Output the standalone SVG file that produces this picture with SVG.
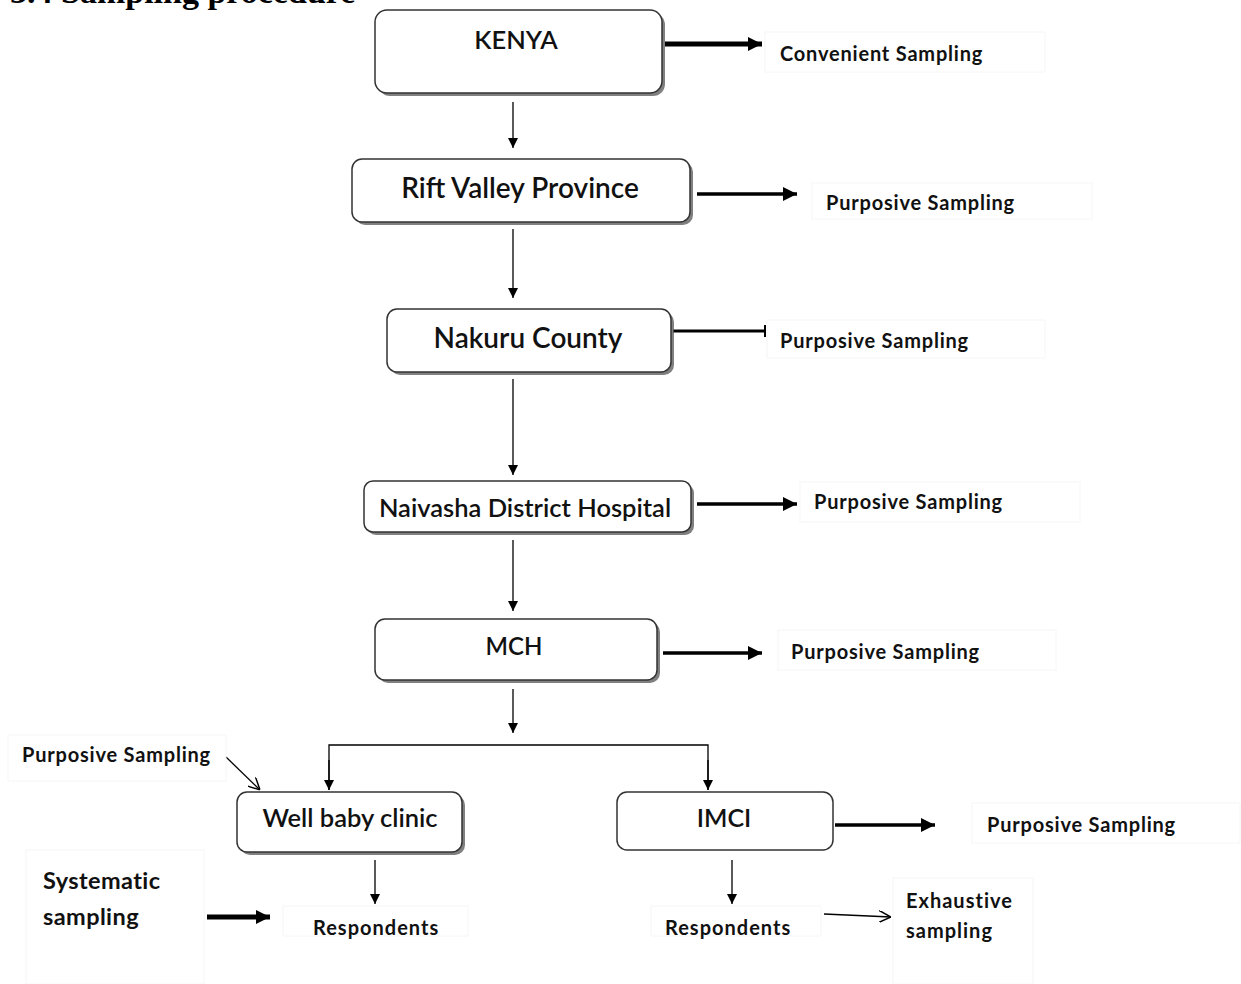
<svg xmlns="http://www.w3.org/2000/svg" width="1241" height="984" viewBox="0 0 1241 984">
<defs>
<marker id="ah" viewBox="0 0 10 10" refX="10" refY="5" markerWidth="10" markerHeight="10" markerUnits="userSpaceOnUse" orient="auto"><path d="M0,0 L10,5 L0,10 z" fill="#000"/></marker>
<marker id="ahb" viewBox="0 0 10 10" refX="10" refY="5" markerWidth="14" markerHeight="15" markerUnits="userSpaceOnUse" orient="auto"><path d="M0,0 L10,5 L0,10 z" fill="#000"/></marker>
<marker id="open" viewBox="0 0 10 10" refX="10" refY="5" markerWidth="12" markerHeight="12" markerUnits="userSpaceOnUse" orient="auto"><path d="M0,0 L10,5 L0,10" fill="none" stroke="#000" stroke-width="1.2"/></marker>
<marker id="bar" viewBox="0 0 4 12" refX="2" refY="6" markerWidth="4" markerHeight="12" markerUnits="userSpaceOnUse" orient="auto"><path d="M2,0 L2,12" stroke="#000" stroke-width="2"/></marker>
</defs>
<style>
.box{fill:#fff;stroke:#333;stroke-width:1.5}
.sh{fill:#555;opacity:0.75}
.nt{font-family:Lato,"Liberation Sans",sans-serif;font-weight:600;fill:#111;text-anchor:middle}
.lb{font-family:Lato,"Liberation Sans",sans-serif;font-weight:bold;fill:#111;letter-spacing:0.8px}
.lbox{fill:none;stroke:#f6f6f6;stroke-width:1}
.thin{stroke:#000;stroke-width:1.3;fill:none}
.thick{stroke:#000;stroke-width:4;fill:none}
</style>
<text x="10" y="3" font-family="'Liberation Serif',serif" font-weight="bold" font-size="34" fill="#000">3.4 Sampling procedure</text>

<g id="connectors">
<line class="thick" x1="665" y1="44" x2="762" y2="44" marker-end="url(#ahb)" style="stroke-width:5"/>
<line class="thin" x1="513" y1="102" x2="513" y2="148" marker-end="url(#ah)"/>
<line class="thick" x1="697" y1="194" x2="797" y2="194" marker-end="url(#ahb)" style="stroke-width:3.5"/>
<line class="thin" x1="513" y1="229" x2="513" y2="298" marker-end="url(#ah)"/>
<line class="thick" x1="673" y1="331" x2="765" y2="331" marker-end="url(#bar)" style="stroke-width:3"/>
<line class="thin" x1="513" y1="379" x2="513" y2="475" marker-end="url(#ah)"/>
<line class="thick" x1="697" y1="504" x2="797" y2="504" marker-end="url(#ahb)" style="stroke-width:3.5"/>
<line class="thin" x1="513" y1="540" x2="513" y2="611" marker-end="url(#ah)"/>
<line class="thick" x1="663" y1="653" x2="762" y2="653" marker-end="url(#ahb)" style="stroke-width:3.5"/>
<line class="thin" x1="513" y1="689" x2="513" y2="733" marker-end="url(#ah)"/>
<polyline class="thin" points="329,790 329,745 708,745 708,790"/>
<line class="thin" x1="329" y1="760" x2="329" y2="790" marker-end="url(#ah)"/>
<line class="thin" x1="708" y1="760" x2="708" y2="790" marker-end="url(#ah)"/>
<line class="thin" x1="226" y1="757" x2="260" y2="790" marker-end="url(#open)"/>
<line class="thick" x1="835" y1="825" x2="935" y2="825" marker-end="url(#ahb)" style="stroke-width:3.5"/>
<line class="thin" x1="375" y1="860" x2="375" y2="904" marker-end="url(#ah)"/>
<line class="thin" x1="732" y1="860" x2="732" y2="904" marker-end="url(#ah)"/>
<line class="thick" x1="207" y1="917" x2="270" y2="917" marker-end="url(#ahb)" style="stroke-width:5"/>
<line class="thin" x1="824" y1="914" x2="891" y2="917" marker-end="url(#open)"/>
</g>

<g id="kenya"><rect class="sh" x="378" y="13" width="287" height="83" rx="12"/><rect class="box" x="375" y="10" width="287" height="83" rx="12"/><text class="nt" x="516" y="49" font-size="25.5">KENYA</text></g>
<g id="rift"><rect class="sh" x="355" y="162" width="338" height="63" rx="10"/><rect class="box" x="352" y="159" width="338" height="63" rx="10"/><text class="nt" x="520" y="198" font-size="28">Rift Valley Province</text></g>
<g id="nakuru"><rect class="sh" x="390" y="312" width="284" height="63" rx="10"/><rect class="box" x="387" y="309" width="284" height="63" rx="10"/><text class="nt" x="528" y="348" font-size="28">Nakuru County</text></g>
<g id="naivasha"><rect class="sh" x="367" y="484" width="327" height="51" rx="9"/><rect class="box" x="364" y="481" width="327" height="51" rx="9"/><text class="nt" x="525" y="517" font-size="25.5">Naivasha District Hospital</text></g>
<g id="mch"><rect class="sh" x="378" y="622" width="282" height="61" rx="10"/><rect class="box" x="375" y="619" width="282" height="61" rx="10"/><text class="nt" x="514" y="655" font-size="24">MCH</text></g>
<g id="wellbaby"><rect class="sh" x="240" y="795" width="225" height="60" rx="10"/><rect class="box" x="237" y="792" width="225" height="60" rx="10"/><text class="nt" x="350" y="827" font-size="25.5">Well baby clinic</text></g>
<g id="imci"><rect class="box" x="617" y="792" width="216" height="58" rx="10"/><text class="nt" x="724" y="827" font-size="25">IMCI</text></g>

<g id="lab-convenient"><rect class="lbox" x="765" y="32" width="280" height="40"/><text class="lb" x="780" y="61" font-size="20">Convenient Sampling</text></g>
<g id="lab-p1"><rect class="lbox" x="812" y="183" width="280" height="36"/><text class="lb" x="826" y="210" font-size="20">Purposive Sampling</text></g>
<g id="lab-p2"><rect class="lbox" x="767" y="320" width="278" height="38"/><text class="lb" x="780" y="348" font-size="20">Purposive Sampling</text></g>
<g id="lab-p3"><rect class="lbox" x="800" y="482" width="280" height="40"/><text class="lb" x="814" y="509" font-size="20">Purposive Sampling</text></g>
<g id="lab-p4"><rect class="lbox" x="778" y="630" width="278" height="40"/><text class="lb" x="791" y="659" font-size="20">Purposive Sampling</text></g>
<g id="lab-p5"><rect class="lbox" x="8" y="735" width="218" height="46"/><text class="lb" x="22" y="762" font-size="20">Purposive Sampling</text></g>
<g id="lab-p6"><rect class="lbox" x="972" y="803" width="268" height="40"/><text class="lb" x="987" y="832" font-size="20">Purposive Sampling</text></g>
<g id="lab-systematic"><rect class="lbox" x="26" y="850" width="178" height="134"/><text class="lb" x="43" y="889" font-size="23.5" style="letter-spacing:0.4px">Systematic</text><text class="lb" x="43" y="925" font-size="23.5" style="letter-spacing:0.4px">sampling</text></g>
<g id="resp1"><rect class="lbox" x="283" y="906" width="185" height="30"/><text class="lb" x="313" y="935" font-size="20" style="letter-spacing:1px">Respondents</text></g>
<g id="resp2"><rect class="lbox" x="651" y="906" width="170" height="30"/><text class="lb" x="665" y="935" font-size="20" style="letter-spacing:1px">Respondents</text></g>
<g id="lab-exhaustive"><rect class="lbox" x="893" y="878" width="140" height="106"/><text class="lb" x="906" y="908" font-size="20" style="letter-spacing:1px">Exhaustive</text><text class="lb" x="906" y="938" font-size="20" style="letter-spacing:1px">sampling</text></g>
</svg>
